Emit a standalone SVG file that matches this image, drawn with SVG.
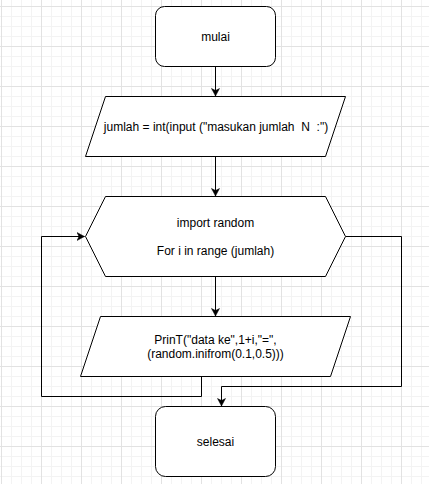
<svg xmlns="http://www.w3.org/2000/svg" width="429" height="484" viewBox="0 0 429 484">
<style>
.shape{fill:#ffffff;stroke:#000000;stroke-width:1}
.edge{fill:none;stroke:#000000;stroke-width:1;marker-end:url(#arrow)}
.edge-plain{fill:none;stroke:#000000;stroke-width:1}
text{font-family:"Liberation Sans",Arial,Helvetica,sans-serif;font-size:12px;fill:#000000;text-anchor:middle;white-space:pre}
</style>
<defs>
<pattern id="grid" patternUnits="userSpaceOnUse" x="1" y="6" width="40" height="40">
<rect x="10" y="0" width="1" height="40" fill="#f3f3f3"/>
<rect x="20" y="0" width="1" height="40" fill="#f3f3f3"/>
<rect x="30" y="0" width="1" height="40" fill="#f3f3f3"/>
<rect x="0" y="10" width="40" height="1" fill="#f3f3f3"/>
<rect x="0" y="20" width="40" height="1" fill="#f3f3f3"/>
<rect x="0" y="30" width="40" height="1" fill="#f3f3f3"/>
<rect x="0" y="0" width="1" height="40" fill="#e2e2e2"/>
<rect x="0" y="0" width="40" height="1" fill="#e2e2e2"/>
</pattern>
<marker id="arrow" markerUnits="userSpaceOnUse" viewBox="-8 -5 9 10" markerWidth="9" markerHeight="10" refX="0" refY="0" orient="auto">
<path d="M0,0 L-7.5,-4 L-5.5,0 L-7.5,4 Z" fill="#000000" stroke="#000000" stroke-width="0.5"/>
</marker>
</defs>
<rect x="0" y="0" width="429" height="484" fill="#ffffff"/>
<rect x="0" y="0" width="429" height="484" fill="url(#grid)"/>

<g id="connectors">
<path class="edge" d="M215.5,66.5 L215.5,96"/>
<path class="edge" d="M215.5,156.5 L215.5,196"/>
<path class="edge" d="M215.5,276.5 L215.5,316"/>
<path class="edge" d="M201.5,376.5 L201.5,396.5 L41.5,396.5 L41.5,236.5 L84.5,236.5"/>
<path class="edge" d="M345.5,236.5 L401.5,236.5 L401.5,386.5 L221.5,386.5 L221.5,406"/>
</g>

<g id="mulai">
<rect class="shape" x="155.5" y="6.5" width="120" height="60" rx="9" ry="9"/>
<text x="215.5" y="40.5">mulai</text>
</g>

<g id="input-jumlah">
<polygon class="shape" points="105.5,96.5 345.5,96.5 325.5,156.5 85.5,156.5"/>
<text x="216" y="131">jumlah = int(input ("masukan jumlah  N  :")</text>
</g>

<g id="loop">
<polygon class="shape" points="85.5,236.5 105.5,196.5 325.5,196.5 345.5,236.5 325.5,276.5 105.5,276.5"/>
<text x="215.5" y="226.5">import random</text>
<text x="215.5" y="255.3">For i in range (jumlah)</text>
</g>

<g id="print">
<polygon class="shape" points="100.5,316.5 350.5,316.5 330.5,376.5 80.5,376.5"/>
<text x="215.5" y="343.5">PrinT("data ke",1+i,"=",</text>
<text x="215.5" y="357.9">(random.inifrom(0.1,0.5)))</text>
</g>

<g id="selesai">
<rect class="shape" x="155.5" y="406.5" width="120" height="70" rx="10" ry="10"/>
<text x="215.5" y="445.5">selesai</text>
</g>
</svg>
